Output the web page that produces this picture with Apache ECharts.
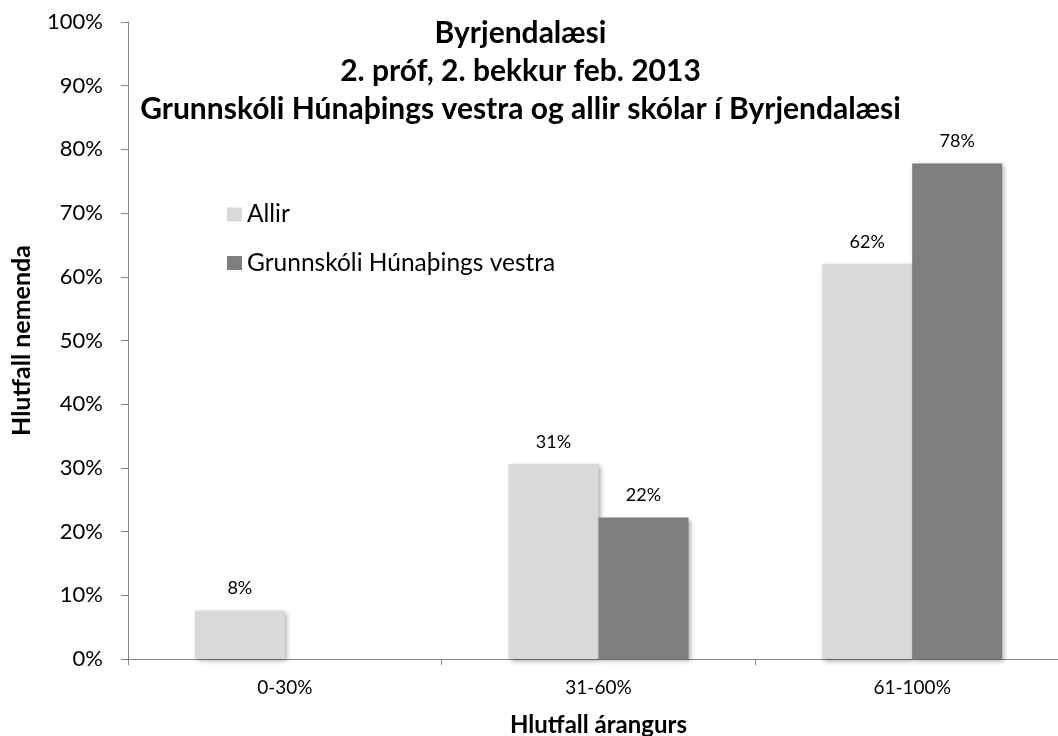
<!DOCTYPE html>
<html>
<head>
<meta charset="utf-8">
<script src="https://cdn.jsdelivr.net/npm/echarts@6/dist/echarts.min.js"></script>
<style>html,body{margin:0;padding:0;background:#fff}#c{width:1058px;height:736px}</style>
</head>
<body>
<div id="c"></div>
<script>
const categories = ['0-30%', '31-60%', '61-100%'];
const seriesNames = ['Allir', 'Grunnskóli Húnaþings vestra'];
const allirValues = [7.6, 30.6, 62.0];
const grunnValues = [0, 22.2, 77.8];
const allirLabels = ['8%', '31%', '62%'];
const grunnLabels = ['', '22%', '78%'];
const yTicks = [0, 10, 20, 30, 40, 50, 60, 70, 80, 90, 100];
const titleLines = ['Byrjendalæsi', '2. próf, 2. bekkur feb. 2013', 'Grunnskóli Húnaþings vestra og allir skólar í Byrjendalæsi'];

const FONT = 'Lato, "Open Sans", sans-serif';
const chart = echarts.init(document.getElementById('c'));
const shadow = {shadowBlur: 5, shadowColor: 'rgba(0,0,0,0.35)', shadowOffsetX: 2, shadowOffsetY: 2};
const titleY = [33, 71, 109];
chart.setOption({
  animation: false,
  backgroundColor: '#fff',
  textStyle: {fontFamily: FONT},
  grid: {left: 128, top: 22, height: 637, width: 941, containLabel: false, outerBoundsMode: 'none'},
  legend: {
    orient: 'vertical', left: 222, top: 197, itemWidth: 15, itemHeight: 14, itemGap: 23.5,
    icon: 'rect',
    textStyle: {fontSize: 24.5, color: '#000', fontFamily: FONT},
    data: seriesNames
  },
  graphic: titleLines.map((t, i) => ({
    type: 'text',
    style: {text: t, x: 520.5, y: titleY[i], align: 'center', verticalAlign: 'middle',
      font: 'bold 30px ' + FONT, fill: '#000'}
  })),
  xAxis: {
    type: 'category', data: categories,
    name: 'Hlutfall árangurs', nameLocation: 'middle', nameGap: 54,
    nameTextStyle: {fontSize: 24, fontWeight: 'bold', color: '#000', fontFamily: FONT},
    axisLine: {lineStyle: {color: '#868686', width: 1}},
    axisTick: {show: true, length: 6, lineStyle: {color: '#868686'}},
    axisLabel: {fontSize: 19, color: '#000', margin: 19, fontFamily: FONT}
  },
  yAxis: {
    type: 'value', min: 0, max: 100, interval: 10,
    name: 'Hlutfall nemenda', nameLocation: 'middle', nameGap: 94, nameRotate: 90,
    nameTextStyle: {fontSize: 25, fontWeight: 'bold', color: '#000', fontFamily: FONT},
    axisLine: {show: true, lineStyle: {color: '#868686', width: 1}},
    axisTick: {show: true, length: 7, lineStyle: {color: '#868686'}},
    splitLine: {show: false},
    axisLabel: {fontSize: 22, color: '#000', margin: 25, fontFamily: FONT,
      formatter: v => yTicks.includes(v) ? v + '%' : ''}
  },
  series: [
    {name: seriesNames[0], type: 'bar', data: allirValues, barWidth: 90, barGap: '0%',
      itemStyle: Object.assign({color: '#d9d9d9'}, shadow),
      label: {show: true, position: 'top', distance: 13, fontSize: 18, color: '#000', fontFamily: FONT,
        formatter: p => allirLabels[p.dataIndex]}},
    {name: seriesNames[1], type: 'bar', data: grunnValues, barWidth: 90, barGap: '0%',
      itemStyle: Object.assign({color: '#7f7f7f'}, shadow),
      label: {show: true, position: 'top', distance: 13, fontSize: 18, color: '#000', fontFamily: FONT,
        formatter: p => grunnLabels[p.dataIndex]}}
  ]
});
</script>
</body>
</html>
